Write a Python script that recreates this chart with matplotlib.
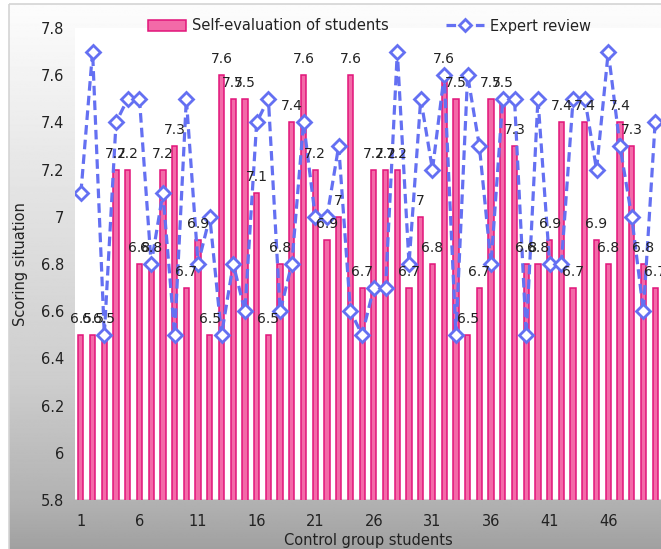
import numpy as np
import matplotlib
matplotlib.use("Agg")
import matplotlib.pyplot as plt
from matplotlib.patches import Rectangle
from matplotlib.lines import Line2D
from matplotlib.patches import Patch

plt.rcParams['font.family'] = ['DejaVu Sans']

students = list(range(1, 51))
self_eval = [6.5, 6.5, 6.5, 7.2, 7.2, 6.8, 6.8, 7.2, 7.3, 6.7,
             6.9, 6.5, 7.6, 7.5, 7.5, 7.1, 6.5, 6.8, 7.4, 7.6,
             7.2, 6.9, 7.0, 7.6, 6.7, 7.2, 7.2, 7.2, 6.7, 7.0,
             6.8, 7.6, 7.5, 6.5, 6.7, 7.5, 7.5, 7.3, 6.8, 6.8,
             6.9, 7.4, 6.7, 7.4, 6.9, 6.8, 7.4, 7.3, 6.8, 6.7]
expert = [7.1, 7.7, 6.5, 7.4, 7.5, 7.5, 6.8, 7.1, 6.5, 7.5,
          6.8, 7.0, 6.5, 6.8, 6.6, 7.4, 7.5, 6.6, 6.8, 7.4,
          7.0, 7.0, 7.3, 6.6, 6.5, 6.7, 6.7, 7.7, 6.8, 7.5,
          7.2, 7.6, 6.5, 7.6, 7.3, 6.8, 7.5, 7.5, 6.5, 7.5,
          6.8, 6.8, 7.5, 7.5, 7.2, 7.7, 7.3, 7.0, 6.6, 7.4]
x_ticks = [1, 6, 11, 16, 21, 26, 31, 36, 41, 46]
y_ticks = [5.8, 6.0, 6.2, 6.4, 6.6, 6.8, 7.0, 7.2, 7.4, 7.6, 7.8]

W, H = 661, 549
fig = plt.figure(figsize=(W / 100, H / 100), dpi=100)

# grey vertical gradient panel behind everything
bg = fig.add_axes([0, 0, 1, 1], zorder=-10)
bg.set_xlim(0, W)
bg.set_ylim(H, 0)
bg.axis('off')
rows = np.arange(H)
shade = np.interp(rows, [0, 5, 150, 380, 500, 549], [252, 252, 232, 205, 178, 160]) / 255.0
grad = np.repeat(shade[:, None], 2, axis=1)
bg.imshow(grad, cmap='gray', vmin=0, vmax=1, extent=[9, W, H, 4], aspect='auto')
bg.add_patch(Rectangle((9, 4), W, H, fill=False, edgecolor='#d4d4d4', linewidth=1.2))

ax = fig.add_axes([75 / W, (H - 500) / H, (W - 75) / W, 472 / H])
ax.set_facecolor('white')

bars = ax.bar(students, self_eval, width=0.45, bottom=0,
              color='#f36aa8', edgecolor='#e2157a', linewidth=1.1, zorder=2)
ax.bar_label(bars, labels=[f'{v:g}' for v in self_eval], padding=6.5,
             fontsize=10, color='#222222', zorder=5)

ax.plot(students, expert, linestyle=(0, (3, 1.6)), color='#6470f2', linewidth=2.3,
        marker='D', markersize=7.5, markerfacecolor='white',
        markeredgecolor='#6470f2', markeredgewidth=2, zorder=4)

ax.set_xlim(0.5, 50.5)
ax.set_ylim(5.8, 7.8)
ax.set_xticks(x_ticks)
ax.set_yticks(y_ticks)
ax.set_yticklabels([f'{v:g}' for v in y_ticks])
ax.tick_params(axis='both', length=0, labelsize=10.5, colors='#222222')
ax.tick_params(axis='x', pad=10)
ax.tick_params(axis='y', pad=8)
for s in ax.spines.values():
    s.set_visible(False)
ax.axhline(5.8, color='#d8d8d8', linewidth=1.5, zorder=1)

ax.set_xlabel('Control group students', fontsize=10.5, color='#222222', labelpad=3)
ax.set_ylabel('Scoring situation', fontsize=10.5, color='#222222', labelpad=9)

handles = [Patch(facecolor='#f36aa8', edgecolor='#e2157a', linewidth=1.1),
           Line2D([], [], linestyle=(0, (3, 1.6)), color='#6470f2', linewidth=2.3,
                  marker='D', markersize=6, markerfacecolor='white',
                  markeredgecolor='#6470f2', markeredgewidth=2)]
fig.legend(handles, ['Self-evaluation of students', 'Expert review'],
           loc='center left', bbox_to_anchor=(148 / W, 1 - 26 / H), ncol=2,
           frameon=False, fontsize=10.5, handlelength=2.6, handleheight=0.7,
           handletextpad=0.4, columnspacing=3.95, borderpad=0, borderaxespad=0,
           labelcolor='#222222')

fig.savefig('out.png', dpi=100)
